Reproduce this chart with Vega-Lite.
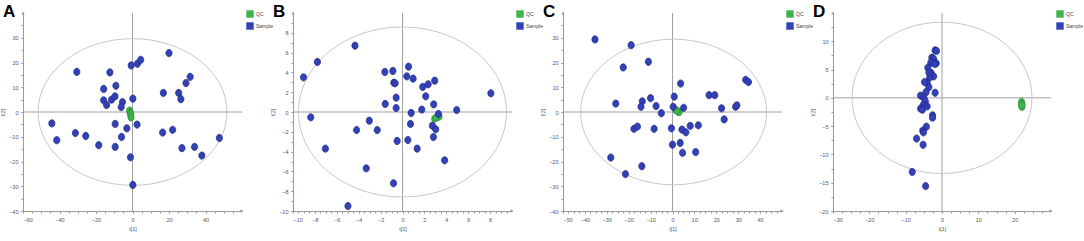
{
  "$schema": "https://vega.github.io/schema/vega-lite/v6.json",
  "padding": {"left": 0, "top": 3, "right": 0, "bottom": 0},
  "background": "white",
  "config": {
    "view": {"stroke": null},
    "axis": {"domainColor": "#9a9a9a", "tickColor": "#9a9a9a", "tickSize": 2, "labelFontSize": 5.5, "labelFont": "Liberation Sans", "labelColor": "#555", "titleFontSize": 5.5, "titleFont": "Liberation Sans", "titleFontWeight": "normal", "titleColor": "#555", "gridColor": "#e6e6e6", "gridWidth": 0.8, "grid": true, "labelOverlap": false},
    "axisX": {"labelPadding": 4, "titlePadding": 4},
    "axisY": {"labelPadding": 3, "titlePadding": 3},
    "title": {"anchor": "start", "frame": "group", "dx": -20, "offset": -11, "fontSize": 17, "fontWeight": "bold", "font": "Liberation Sans", "color": "#000", "baseline": "alphabetic"},
    "legend": {"orient": "none", "legendX": 223, "legendY": -3, "symbolType": "square", "symbolSize": 55, "symbolStrokeWidth": 0, "labelFontSize": 5, "labelFont": "Liberation Sans", "labelColor": "#444", "rowPadding": 4, "labelOffset": 2}
  },
  "datasets": {
    "A": [
      {"t1": -1.6, "t2": 0.6, "group": "QC"}, {"t1": -1.2, "t2": -0.3, "group": "QC"}, {"t1": -1.0, "t2": -1.0, "group": "QC"}, {"t1": -0.8, "t2": -2.2, "group": "QC"},
      {"t1": -30.5, "t2": 16.2, "group": "Sample"}, {"t1": -12.4, "t2": 16.0, "group": "Sample"}, {"t1": -15.8, "t2": 9.3, "group": "Sample"}, {"t1": -9.1, "t2": 10.6, "group": "Sample"},
      {"t1": -15.8, "t2": 4.7, "group": "Sample"}, {"t1": -14.2, "t2": 2.8, "group": "Sample"}, {"t1": -11.5, "t2": 5.0, "group": "Sample"}, {"t1": -9.6, "t2": 6.3, "group": "Sample"},
      {"t1": -5.5, "t2": 4.0, "group": "Sample"}, {"t1": -6.2, "t2": 2.0, "group": "Sample"}, {"t1": -0.7, "t2": 18.8, "group": "Sample"}, {"t1": 2.7, "t2": 19.5, "group": "Sample"},
      {"t1": 4.5, "t2": 21.1, "group": "Sample"}, {"t1": 0.2, "t2": 5.4, "group": "Sample"}, {"t1": 20.0, "t2": 23.8, "group": "Sample"}, {"t1": 16.9, "t2": 7.7, "group": "Sample"},
      {"t1": 25.3, "t2": 7.7, "group": "Sample"}, {"t1": 26.5, "t2": 5.2, "group": "Sample"}, {"t1": 29.3, "t2": 11.7, "group": "Sample"}, {"t1": 31.6, "t2": 14.2, "group": "Sample"},
      {"t1": -44.2, "t2": -4.6, "group": "Sample"}, {"t1": -41.5, "t2": -11.4, "group": "Sample"}, {"t1": -31.3, "t2": -8.5, "group": "Sample"}, {"t1": -25.6, "t2": -9.7, "group": "Sample"},
      {"t1": -18.5, "t2": -13.4, "group": "Sample"}, {"t1": -9.5, "t2": -4.8, "group": "Sample"}, {"t1": -9.5, "t2": -14.1, "group": "Sample"}, {"t1": -6.0, "t2": -10.1, "group": "Sample"},
      {"t1": -3.1, "t2": -6.6, "group": "Sample"}, {"t1": 2.5, "t2": -5.1, "group": "Sample"}, {"t1": -1.1, "t2": -18.3, "group": "Sample"}, {"t1": 0.2, "t2": -29.5, "group": "Sample"},
      {"t1": 16.5, "t2": -8.3, "group": "Sample"}, {"t1": 22.0, "t2": -7.2, "group": "Sample"}, {"t1": 27.1, "t2": -14.6, "group": "Sample"}, {"t1": 34.0, "t2": -14.1, "group": "Sample"},
      {"t1": 38.0, "t2": -17.6, "group": "Sample"}, {"t1": 47.6, "t2": -10.5, "group": "Sample"}
    ],
    "B": [
      {"t1": 2.94, "t2": -0.67, "group": "QC"}, {"t1": 3.16, "t2": -0.5, "group": "QC"}, {"t1": 3.34, "t2": -0.47, "group": "QC"}, {"t1": 3.05, "t2": -0.6, "group": "QC"},
      {"t1": -9.04, "t2": 3.5, "group": "Sample"}, {"t1": -7.77, "t2": 5.05, "group": "Sample"}, {"t1": -4.34, "t2": 6.7, "group": "Sample"}, {"t1": -8.38, "t2": -0.54, "group": "Sample"},
      {"t1": -7.04, "t2": -3.7, "group": "Sample"}, {"t1": -4.19, "t2": -1.82, "group": "Sample"}, {"t1": -3.03, "t2": -0.88, "group": "Sample"}, {"t1": -2.31, "t2": -1.82, "group": "Sample"},
      {"t1": -3.31, "t2": -5.69, "group": "Sample"}, {"t1": -4.98, "t2": -9.5, "group": "Sample"}, {"t1": -0.82, "t2": -7.2, "group": "Sample"}, {"t1": -1.61, "t2": 4.04, "group": "Sample"},
      {"t1": -0.88, "t2": 4.14, "group": "Sample"}, {"t1": -0.79, "t2": 2.96, "group": "Sample"}, {"t1": -0.67, "t2": 2.9, "group": "Sample"}, {"t1": -0.58, "t2": 1.45, "group": "Sample"},
      {"t1": -1.58, "t2": 0.81, "group": "Sample"}, {"t1": -0.58, "t2": 0.4, "group": "Sample"}, {"t1": -0.49, "t2": -2.93, "group": "Sample"}, {"t1": 0.49, "t2": -2.83, "group": "Sample"},
      {"t1": 0.73, "t2": -1.21, "group": "Sample"}, {"t1": 0.79, "t2": -0.1, "group": "Sample"}, {"t1": 0.39, "t2": 3.6, "group": "Sample"}, {"t1": 0.55, "t2": 4.58, "group": "Sample"},
      {"t1": 0.97, "t2": 3.37, "group": "Sample"}, {"t1": 1.34, "t2": -3.7, "group": "Sample"}, {"t1": 1.76, "t2": 0.24, "group": "Sample"}, {"t1": 2.12, "t2": 1.58, "group": "Sample"},
      {"t1": 1.85, "t2": 2.53, "group": "Sample"}, {"t1": 2.34, "t2": 2.8, "group": "Sample"}, {"t1": 2.94, "t2": 3.16, "group": "Sample"}, {"t1": 2.85, "t2": 0.77, "group": "Sample"},
      {"t1": 2.73, "t2": -1.38, "group": "Sample"}, {"t1": 3.03, "t2": -1.75, "group": "Sample"}, {"t1": 2.82, "t2": -2.53, "group": "Sample"}, {"t1": 3.28, "t2": -0.2, "group": "Sample"},
      {"t1": 3.85, "t2": -4.88, "group": "Sample"}, {"t1": 4.95, "t2": 0.2, "group": "Sample"}, {"t1": 8.07, "t2": 1.89, "group": "Sample"}
    ],
    "C": [
      {"t1": 1.5, "t2": 0.8, "group": "QC"}, {"t1": 2.5, "t2": 0.3, "group": "QC"}, {"t1": 3.0, "t2": -0.1, "group": "QC"}, {"t1": 2.0, "t2": 0.5, "group": "QC"},
      {"t1": -35.4, "t2": 29.3, "group": "Sample"}, {"t1": -18.9, "t2": 27.0, "group": "Sample"}, {"t1": -22.5, "t2": 18.0, "group": "Sample"}, {"t1": -11.0, "t2": 20.3, "group": "Sample"},
      {"t1": -25.9, "t2": 3.4, "group": "Sample"}, {"t1": -13.8, "t2": 4.3, "group": "Sample"}, {"t1": -14.4, "t2": 2.1, "group": "Sample"}, {"t1": -10.0, "t2": 5.6, "group": "Sample"},
      {"t1": -7.5, "t2": 2.4, "group": "Sample"}, {"t1": -5.1, "t2": -0.5, "group": "Sample"}, {"t1": -17.6, "t2": -6.8, "group": "Sample"}, {"t1": -16.0, "t2": -5.9, "group": "Sample"},
      {"t1": -8.4, "t2": -6.8, "group": "Sample"}, {"t1": -28.2, "t2": -18.4, "group": "Sample"}, {"t1": -14.0, "t2": -21.9, "group": "Sample"}, {"t1": -21.5, "t2": -25.1, "group": "Sample"},
      {"t1": 0.8, "t2": 6.2, "group": "Sample"}, {"t1": 3.7, "t2": 11.5, "group": "Sample"}, {"t1": 0.3, "t2": 2.1, "group": "Sample"}, {"t1": 5.1, "t2": 1.7, "group": "Sample"},
      {"t1": -0.5, "t2": -6.6, "group": "Sample"}, {"t1": 4.3, "t2": -7.1, "group": "Sample"}, {"t1": 6.1, "t2": -8.2, "group": "Sample"}, {"t1": 8.1, "t2": -5.6, "group": "Sample"},
      {"t1": 11.8, "t2": -5.4, "group": "Sample"}, {"t1": 3.5, "t2": -12.5, "group": "Sample"}, {"t1": 0.0, "t2": -13.2, "group": "Sample"}, {"t1": 4.6, "t2": -16.5, "group": "Sample"},
      {"t1": 10.6, "t2": -16.2, "group": "Sample"}, {"t1": 16.7, "t2": 6.8, "group": "Sample"}, {"t1": 19.3, "t2": 6.8, "group": "Sample"}, {"t1": 22.4, "t2": 1.5, "group": "Sample"},
      {"t1": 23.6, "t2": -3.0, "group": "Sample"}, {"t1": 28.8, "t2": 2.1, "group": "Sample"}, {"t1": 29.4, "t2": 2.7, "group": "Sample"}, {"t1": 33.4, "t2": 13.0, "group": "Sample"},
      {"t1": 34.7, "t2": 12.1, "group": "Sample"}
    ],
    "D": [
      {"t1": 21.9, "t2": -0.7, "group": "QC"}, {"t1": 22.0, "t2": -1.1, "group": "QC"}, {"t1": 22.0, "t2": -1.6, "group": "QC"}, {"t1": 21.95, "t2": -1.3, "group": "QC"},
      {"t1": -1.9, "t2": 8.4, "group": "Sample"}, {"t1": -1.5, "t2": 8.3, "group": "Sample"}, {"t1": -2.8, "t2": 7.1, "group": "Sample"}, {"t1": -2.3, "t2": 6.9, "group": "Sample"},
      {"t1": -1.6, "t2": 6.1, "group": "Sample"}, {"t1": -3.1, "t2": 6.2, "group": "Sample"}, {"t1": -3.9, "t2": 5.3, "group": "Sample"}, {"t1": -3.0, "t2": 4.4, "group": "Sample"},
      {"t1": -2.3, "t2": 3.8, "group": "Sample"}, {"t1": -3.4, "t2": 3.6, "group": "Sample"}, {"t1": -3.6, "t2": 4.5, "group": "Sample"}, {"t1": -4.1, "t2": 2.6, "group": "Sample"},
      {"t1": -3.6, "t2": 1.9, "group": "Sample"}, {"t1": -1.9, "t2": 0.9, "group": "Sample"}, {"t1": -4.4, "t2": 1.0, "group": "Sample"}, {"t1": -5.9, "t2": 0.4, "group": "Sample"},
      {"t1": -5.0, "t2": 0.0, "group": "Sample"}, {"t1": -4.6, "t2": -0.6, "group": "Sample"}, {"t1": -5.2, "t2": -1.3, "group": "Sample"}, {"t1": -4.1, "t2": -1.5, "group": "Sample"},
      {"t1": -5.9, "t2": -1.9, "group": "Sample"}, {"t1": -5.4, "t2": -2.1, "group": "Sample"}, {"t1": -2.6, "t2": -3.1, "group": "Sample"}, {"t1": -2.6, "t2": -3.5, "group": "Sample"},
      {"t1": -4.3, "t2": -5.1, "group": "Sample"}, {"t1": -5.3, "t2": -5.8, "group": "Sample"}, {"t1": -5.1, "t2": -6.1, "group": "Sample"}, {"t1": -7.0, "t2": -7.2, "group": "Sample"},
      {"t1": -5.2, "t2": -8.3, "group": "Sample"}, {"t1": -8.2, "t2": -13.1, "group": "Sample"}, {"t1": -4.5, "t2": -15.6, "group": "Sample"}, {"t1": -2.0, "t2": 6.0, "group": "Sample"},
      {"t1": -4.8, "t2": 2.8, "group": "Sample"}
    ]
  },
  "hconcat": [
    {
      "width": 219, "height": 198,
      "title": {"text": "A"},
      "resolve": {"axis": {"x": "independent", "y": "independent"}},
      "layer": [
        {"data": {"values": [{}]}, "mark": {"type": "rule", "color": "#a0a0a0", "strokeWidth": 1}, "encoding": {"x": {"datum": 0, "type": "quantitative", "axis": {"orient": "bottom", "values": [-60, -55, -50, -45, -40, -35, -30, -25, -20, -15, -10, -5, 0, 5, 10, 15, 20, 25, 30, 35, 40, 45, 50, 55], "labels": false, "grid": false, "domain": false, "title": null, "tickSize": 2}}}},
        {"data": {"values": [{}]}, "mark": {"type": "rule", "color": "#a0a0a0", "strokeWidth": 1}, "encoding": {"y": {"datum": 0, "type": "quantitative", "axis": {"orient": "left", "values": [-40, -35, -30, -25, -20, -15, -10, -5, 0, 5, 10, 15, 20, 25, 30, 35], "labels": false, "grid": false, "domain": false, "title": null, "tickSize": 2}}}},
        {"data": {"values": [{}]}, "mark": {"type": "point", "filled": false, "stroke": "#c8c8c8", "strokeWidth": 1, "opacity": 1, "size": 35721, "shape": "M -1 0 C -1 -0.4286 -0.5523 -0.776 0 -0.776 C 0.5523 -0.776 1 -0.4286 1 0 C 1 0.4286 0.5523 0.776 0 0.776 C -0.5523 0.776 -1 0.4286 -1 0 Z"}, "encoding": {"x": {"datum": 0, "type": "quantitative", "axis": null}, "y": {"datum": 0, "type": "quantitative", "axis": null}}},
        {"data": {"values": [{}]}, "mark": {"type": "point", "filled": true, "color": "#9a9a9a", "shape": "triangle-up", "size": 12, "opacity": 1}, "encoding": {"x": {"datum": -60, "type": "quantitative", "axis": null}, "y": {"datum": 40, "type": "quantitative", "axis": null}}},
        {"data": {"values": [{}]}, "mark": {"type": "point", "filled": true, "color": "#9a9a9a", "shape": "triangle-right", "size": 12, "opacity": 1}, "encoding": {"x": {"datum": 60, "type": "quantitative", "axis": null}, "y": {"datum": -40, "type": "quantitative", "axis": null}}},
        {
          "data": {"name": "A"},
          "mark": {"type": "point", "filled": true, "opacity": 1, "size": 53, "strokeWidth": 0.7, "shape": "M -0.85 0 C -0.85 -0.5523 -0.4694 -1 0 -1 C 0.4694 -1 0.85 -0.5523 0.85 0 C 0.85 0.5523 0.4694 1 0 1 C -0.4694 1 -0.85 0.5523 -0.85 0 Z"},
          "encoding": {
            "x": {"field": "t1", "type": "quantitative", "scale": {"domain": [-60, 60], "nice": false, "zero": false}, "axis": {"orient": "bottom", "title": "t[1]", "values": [-60, -40, -20, 0, 20, 40]}},
            "y": {"field": "t2", "type": "quantitative", "scale": {"domain": [-40, 40], "nice": false, "zero": false}, "axis": {"orient": "left", "title": "t[2]", "values": [-40, -30, -20, -10, 0, 10, 20, 30]}},
            "color": {"field": "group", "type": "nominal", "scale": {"domain": ["QC", "Sample"], "range": ["#3db54a", "#3341b8"]}, "legend": {"title": null}},
            "stroke": {"field": "group", "type": "nominal", "scale": {"domain": ["QC", "Sample"], "range": ["#2a8a36", "#1c2480"]}, "legend": null}
          }
        }
      ]
    },
    {
      "width": 219, "height": 198,
      "title": {"text": "B"},
      "resolve": {"axis": {"x": "independent", "y": "independent"}},
      "layer": [
        {"data": {"values": [{}]}, "mark": {"type": "rule", "color": "#a0a0a0", "strokeWidth": 1}, "encoding": {"x": {"datum": 0, "type": "quantitative", "axis": {"orient": "bottom", "values": [-10, -9.5, -9, -8.5, -8, -7.5, -7, -6.5, -6, -5.5, -5, -4.5, -4, -3.5, -3, -2.5, -2, -1.5, -1, -0.5, 0, 0.5, 1, 1.5, 2, 2.5, 3, 3.5, 4, 4.5, 5, 5.5, 6, 6.5, 7, 7.5, 8, 8.5, 9, 9.5], "labels": false, "grid": false, "domain": false, "title": null, "tickSize": 2}}}},
        {"data": {"values": [{}]}, "mark": {"type": "rule", "color": "#a0a0a0", "strokeWidth": 1}, "encoding": {"y": {"datum": 0, "type": "quantitative", "axis": {"orient": "left", "values": [-10, -9, -8, -7, -6, -5, -4, -3, -2, -1, 0, 1, 2, 3, 4, 5, 6, 7, 8, 9], "labels": false, "grid": false, "domain": false, "title": null, "tickSize": 2}}}},
        {"data": {"values": [{}]}, "mark": {"type": "point", "filled": false, "stroke": "#c8c8c8", "strokeWidth": 1, "opacity": 1, "size": 43264, "shape": "M -1 0 C -1 -0.4512 -0.5523 -0.817 0 -0.817 C 0.5523 -0.817 1 -0.4512 1 0 C 1 0.4512 0.5523 0.817 0 0.817 C -0.5523 0.817 -1 0.4512 -1 0 Z"}, "encoding": {"x": {"datum": 0, "type": "quantitative", "axis": null}, "y": {"datum": 0, "type": "quantitative", "axis": null}}},
        {"data": {"values": [{}]}, "mark": {"type": "point", "filled": true, "color": "#9a9a9a", "shape": "triangle-up", "size": 12, "opacity": 1}, "encoding": {"x": {"datum": -10, "type": "quantitative", "axis": null}, "y": {"datum": 10, "type": "quantitative", "axis": null}}},
        {"data": {"values": [{}]}, "mark": {"type": "point", "filled": true, "color": "#9a9a9a", "shape": "triangle-right", "size": 12, "opacity": 1}, "encoding": {"x": {"datum": 10, "type": "quantitative", "axis": null}, "y": {"datum": -10, "type": "quantitative", "axis": null}}},
        {
          "data": {"name": "B"},
          "mark": {"type": "point", "filled": true, "opacity": 1, "size": 53, "strokeWidth": 0.7, "shape": "M -0.85 0 C -0.85 -0.5523 -0.4694 -1 0 -1 C 0.4694 -1 0.85 -0.5523 0.85 0 C 0.85 0.5523 0.4694 1 0 1 C -0.4694 1 -0.85 0.5523 -0.85 0 Z"},
          "encoding": {
            "x": {"field": "t1", "type": "quantitative", "scale": {"domain": [-10, 10], "nice": false, "zero": false}, "axis": {"orient": "bottom", "title": "t[1]", "values": [-10, -8, -6, -4, -2, 0, 2, 4, 6, 8]}},
            "y": {"field": "t2", "type": "quantitative", "scale": {"domain": [-10, 10], "nice": false, "zero": false}, "axis": {"orient": "left", "title": "t[2]", "values": [-10, -8, -6, -4, -2, 0, 2, 4, 6, 8]}},
            "color": {"field": "group", "type": "nominal", "scale": {"domain": ["QC", "Sample"], "range": ["#3db54a", "#3341b8"]}, "legend": {"title": null}},
            "stroke": {"field": "group", "type": "nominal", "scale": {"domain": ["QC", "Sample"], "range": ["#2a8a36", "#1c2480"]}, "legend": null}
          }
        }
      ]
    },
    {
      "width": 219, "height": 198,
      "title": {"text": "C"},
      "resolve": {"axis": {"x": "independent", "y": "independent"}},
      "layer": [
        {"data": {"values": [{}]}, "mark": {"type": "rule", "color": "#a0a0a0", "strokeWidth": 1}, "encoding": {"x": {"datum": 0, "type": "quantitative", "axis": {"orient": "bottom", "values": [-50, -47.5, -45, -42.5, -40, -37.5, -35, -32.5, -30, -27.5, -25, -22.5, -20, -17.5, -15, -12.5, -10, -7.5, -5, -2.5, 0, 2.5, 5, 7.5, 10, 12.5, 15, 17.5, 20, 22.5, 25, 27.5, 30, 32.5, 35, 37.5, 40, 42.5, 45, 47.5], "labels": false, "grid": false, "domain": false, "title": null, "tickSize": 2}}}},
        {"data": {"values": [{}]}, "mark": {"type": "rule", "color": "#a0a0a0", "strokeWidth": 1}, "encoding": {"y": {"datum": 0, "type": "quantitative", "axis": {"orient": "left", "values": [-40, -35, -30, -25, -20, -15, -10, -5, 0, 5, 10, 15, 20, 25, 30, 35], "labels": false, "grid": false, "domain": false, "title": null, "tickSize": 2}}}},
        {"data": {"values": [{}]}, "mark": {"type": "point", "filled": false, "stroke": "#c8c8c8", "strokeWidth": 1, "opacity": 1, "size": 34596, "shape": "M -1 0 C -1 -0.4324 -0.5523 -0.783 0 -0.783 C 0.5523 -0.783 1 -0.4324 1 0 C 1 0.4324 0.5523 0.783 0 0.783 C -0.5523 0.783 -1 0.4324 -1 0 Z"}, "encoding": {"x": {"datum": 0.5, "type": "quantitative", "axis": null}, "y": {"datum": 0, "type": "quantitative", "axis": null}}},
        {"data": {"values": [{}]}, "mark": {"type": "point", "filled": true, "color": "#9a9a9a", "shape": "triangle-up", "size": 12, "opacity": 1}, "encoding": {"x": {"datum": -50, "type": "quantitative", "axis": null}, "y": {"datum": 40, "type": "quantitative", "axis": null}}},
        {"data": {"values": [{}]}, "mark": {"type": "point", "filled": true, "color": "#9a9a9a", "shape": "triangle-right", "size": 12, "opacity": 1}, "encoding": {"x": {"datum": 50, "type": "quantitative", "axis": null}, "y": {"datum": -40, "type": "quantitative", "axis": null}}},
        {
          "data": {"name": "C"},
          "mark": {"type": "point", "filled": true, "opacity": 1, "size": 53, "strokeWidth": 0.7, "shape": "M -0.85 0 C -0.85 -0.5523 -0.4694 -1 0 -1 C 0.4694 -1 0.85 -0.5523 0.85 0 C 0.85 0.5523 0.4694 1 0 1 C -0.4694 1 -0.85 0.5523 -0.85 0 Z"},
          "encoding": {
            "x": {"field": "t1", "type": "quantitative", "scale": {"domain": [-50, 50], "nice": false, "zero": false}, "axis": {"orient": "bottom", "title": "t[1]", "values": [-50, -40, -30, -20, -10, 0, 10, 20, 30, 40]}},
            "y": {"field": "t2", "type": "quantitative", "scale": {"domain": [-40, 40], "nice": false, "zero": false}, "axis": {"orient": "left", "title": "t[2]", "values": [-40, -30, -20, -10, 0, 10, 20, 30]}},
            "color": {"field": "group", "type": "nominal", "scale": {"domain": ["QC", "Sample"], "range": ["#3db54a", "#3341b8"]}, "legend": {"title": null}},
            "stroke": {"field": "group", "type": "nominal", "scale": {"domain": ["QC", "Sample"], "range": ["#2a8a36", "#1c2480"]}, "legend": null}
          }
        }
      ]
    },
    {
      "width": 218, "height": 198,
      "title": {"text": "D"},
      "resolve": {"axis": {"x": "independent", "y": "independent"}},
      "layer": [
        {"data": {"values": [{}]}, "mark": {"type": "rule", "color": "#a0a0a0", "strokeWidth": 1}, "encoding": {"x": {"datum": 0, "type": "quantitative", "axis": {"orient": "bottom", "values": [-30, -27.5, -25, -22.5, -20, -17.5, -15, -12.5, -10, -7.5, -5, -2.5, 0, 2.5, 5, 7.5, 10, 12.5, 15, 17.5, 20, 22.5, 25, 27.5], "labels": false, "grid": false, "domain": false, "title": null, "tickSize": 2}}}},
        {"data": {"values": [{}]}, "mark": {"type": "rule", "color": "#a0a0a0", "strokeWidth": 1}, "encoding": {"y": {"datum": 0, "type": "quantitative", "axis": {"orient": "left", "values": [-20, -17.5, -15, -12.5, -10, -7.5, -5, -2.5, 0, 2.5, 5, 7.5, 10, 12.5], "labels": false, "grid": false, "domain": false, "title": null, "tickSize": 2}}}},
        {"data": {"values": [{}]}, "mark": {"type": "point", "filled": false, "stroke": "#c8c8c8", "strokeWidth": 1, "opacity": 1, "size": 32400, "shape": "M -1 0 C -1 -0.4645 -0.5523 -0.841 0 -0.841 C 0.5523 -0.841 1 -0.4645 1 0 C 1 0.4645 0.5523 0.841 0 0.841 C -0.5523 0.841 -1 0.4645 -1 0 Z"}, "encoding": {"x": {"datum": 0, "type": "quantitative", "axis": null}, "y": {"datum": 0, "type": "quantitative", "axis": null}}},
        {"data": {"values": [{}]}, "mark": {"type": "point", "filled": true, "color": "#9a9a9a", "shape": "triangle-up", "size": 12, "opacity": 1}, "encoding": {"x": {"datum": -30, "type": "quantitative", "axis": null}, "y": {"datum": 15, "type": "quantitative", "axis": null}}},
        {"data": {"values": [{}]}, "mark": {"type": "point", "filled": true, "color": "#9a9a9a", "shape": "triangle-right", "size": 12, "opacity": 1}, "encoding": {"x": {"datum": 30, "type": "quantitative", "axis": null}, "y": {"datum": -20, "type": "quantitative", "axis": null}}},
        {
          "data": {"name": "D"},
          "mark": {"type": "point", "filled": true, "opacity": 1, "size": 53, "strokeWidth": 0.7, "shape": "M -0.85 0 C -0.85 -0.5523 -0.4694 -1 0 -1 C 0.4694 -1 0.85 -0.5523 0.85 0 C 0.85 0.5523 0.4694 1 0 1 C -0.4694 1 -0.85 0.5523 -0.85 0 Z"},
          "encoding": {
            "x": {"field": "t1", "type": "quantitative", "scale": {"domain": [-30, 30], "nice": false, "zero": false}, "axis": {"orient": "bottom", "title": "t[1]", "values": [-30, -20, -10, 0, 10, 20]}},
            "y": {"field": "t2", "type": "quantitative", "scale": {"domain": [-20, 15], "nice": false, "zero": false}, "axis": {"orient": "left", "title": "t[2]", "values": [-20, -15, -10, -5, 0, 5, 10]}},
            "color": {"field": "group", "type": "nominal", "scale": {"domain": ["QC", "Sample"], "range": ["#3db54a", "#3341b8"]}, "legend": {"title": null}},
            "stroke": {"field": "group", "type": "nominal", "scale": {"domain": ["QC", "Sample"], "range": ["#2a8a36", "#1c2480"]}, "legend": null}
          }
        }
      ]
    }
  ],
  "spacing": 51,
  "bounds": "flush",
  "resolve": {"scale": {"x": "independent", "y": "independent", "color": "independent", "stroke": "independent"}, "legend": {"color": "independent"}}
}
